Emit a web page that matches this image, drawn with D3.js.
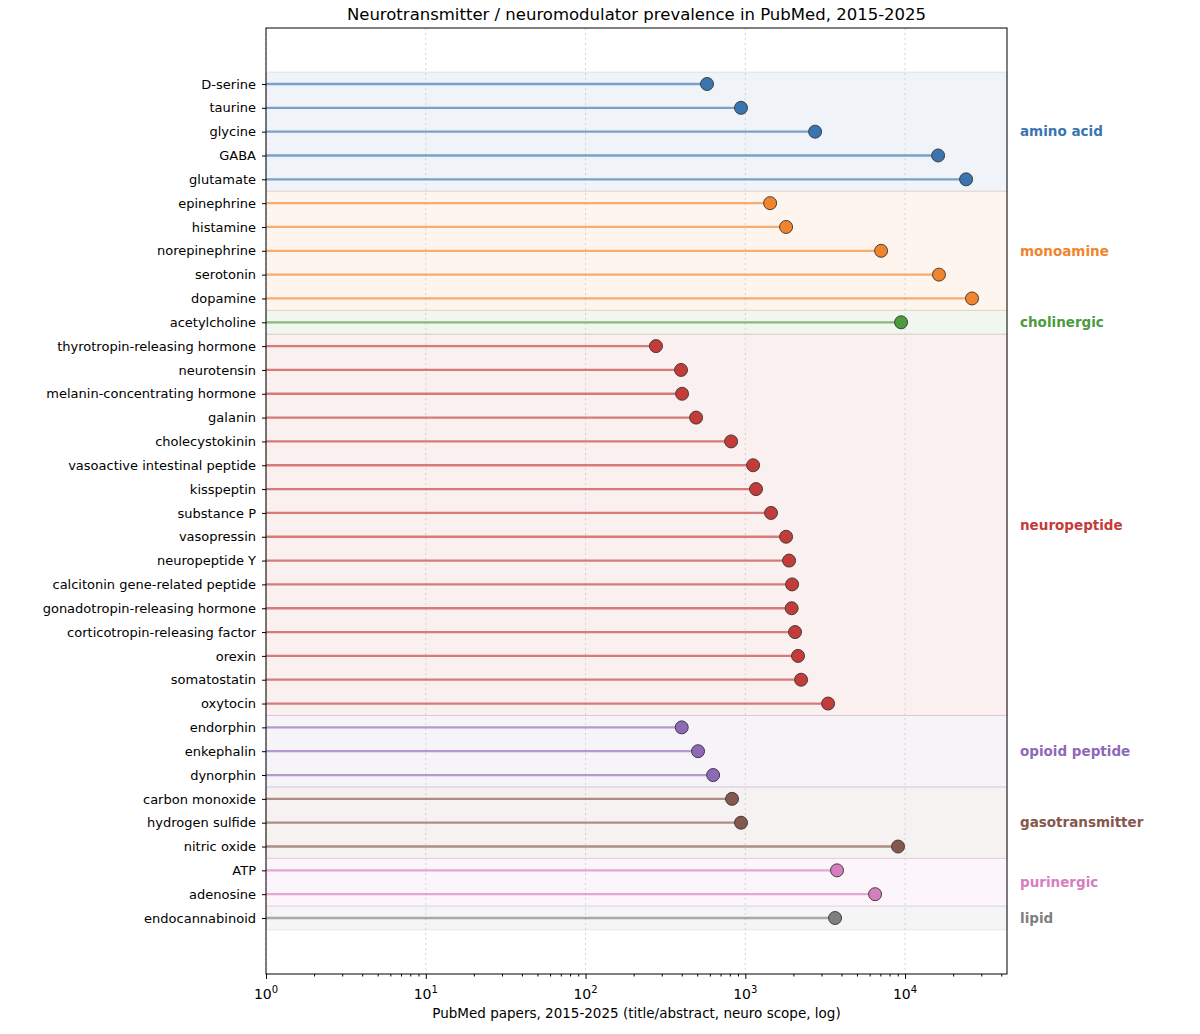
<!DOCTYPE html>
<html><head><meta charset="utf-8">
<script src="https://cdn.jsdelivr.net/npm/d3@7"></script>
<style>body{margin:0;background:#fff}svg, svg text{font-family:"DejaVu Sans",sans-serif}</style>
</head><body><div id="chart"></div>
<script>
const names = ["D-serine","taurine","glycine","GABA","glutamate",
  "epinephrine","histamine","norepinephrine","serotonin","dopamine",
  "acetylcholine",
  "thyrotropin-releasing hormone","neurotensin","melanin-concentrating hormone","galanin","cholecystokinin","vasoactive intestinal peptide","kisspeptin","substance P","vasopressin","neuropeptide Y","calcitonin gene-related peptide","gonadotropin-releasing hormone","corticotropin-releasing factor","orexin","somatostatin","oxytocin",
  "endorphin","enkephalin","dynorphin",
  "carbon monoxide","hydrogen sulfide","nitric oxide",
  "ATP","adenosine","endocannabinoid"];
const papers = [576,940,2735,16100,24100,
  1430,1800,7080,16300,26250,
  9440,
  276,396,402,492,815,1119,1167,1449,1800,1879,1963,1950,2048,2138,2234,3297,
  400,506,629,
  826,940,9036,
  3750,6490,3646];
const groups = ["amino acid","monoamine","cholinergic","neuropeptide","opioid peptide","gasotransmitter","purinergic","lipid"];
const groupSizes = [5,5,1,16,3,3,2,1];
const groupColors = ["#3a75b0","#f0852d","#4e9a3e","#c43c39","#8d69b8","#85584d","#d57fbe","#7f7f7f"];

const W = 1200, H = 1034, L = 266, R = 1007, T = 28, B = 974;
const svg = d3.select("#chart").append("svg").attr("width", W).attr("height", H);
const x = d3.scaleLog().domain([1, 43450]).range([L, R]);
const y = d3.scaleLinear().domain([-2.35, 37.35]).range([T, B]);

const rowGroup = [];
groupSizes.forEach((n, g) => { for (let i = 0; i < n; i++) rowGroup.push(g); });

// bands
let start = 0;
groupSizes.forEach((n, g) => {
  svg.append("rect").attr("x", L).attr("width", R - L)
    .attr("y", y(start - 0.5)).attr("height", y(start + n - 0.5) - y(start - 0.5))
    .attr("fill", groupColors[g]).attr("fill-opacity", 0.08)
    .attr("stroke", groupColors[g]).attr("stroke-opacity", 0.15);
  svg.append("text").attr("x", 1020).attr("y", y(start + (n - 1) / 2)).attr("dy", "0.35em")
    .attr("fill", groupColors[g]).attr("font-weight", "bold").attr("font-size", 13.5)
    .text(groups[g]);
  start += n;
});

// grid
[1, 10, 100, 1000, 10000].forEach(v => {
  svg.append("line").attr("x1", x(v)).attr("x2", x(v)).attr("y1", T).attr("y2", B)
    .attr("stroke", "#ccc").attr("stroke-dasharray", "2,3").attr("stroke-width", 0.8);
});

// lollipops
names.forEach((nm, i) => {
  const c = groupColors[rowGroup[i]];
  svg.append("line").attr("x1", x(1)).attr("x2", x(papers[i])).attr("y1", y(i)).attr("y2", y(i))
    .attr("stroke", c).attr("stroke-opacity", 0.65).attr("stroke-width", 2.3);
  svg.append("circle").attr("cx", x(papers[i])).attr("cy", y(i)).attr("r", 6.5)
    .attr("fill", c).attr("stroke", "#333").attr("stroke-width", 0.9);
});

// axes
const yAxis = svg.append("g").attr("transform", `translate(${L},0)`)
  .call(d3.axisLeft(y).tickValues(d3.range(names.length)).tickFormat(i => names[i]).tickSize(4));
yAxis.attr("font-family", null);
yAxis.select(".domain").remove();
yAxis.selectAll("text").attr("font-size", 13).attr("fill", "#000").attr("x", -10);

const major = [1, 10, 100, 1000, 10000];
const xAxis = svg.append("g").attr("transform", `translate(0,${B})`)
  .call(d3.axisBottom(x).tickValues(major).tickFormat(() => "").tickSize(5));
xAxis.select(".domain").remove();
const minor = [];
for (let e = 0; e < 5; e++) for (let k = 2; k <= 9; k++) { const v = k * 10 ** e; if (v < 43450) minor.push(v); }
svg.append("g").attr("transform", `translate(0,${B})`)
  .call(d3.axisBottom(x).tickValues(minor).tickFormat(() => "").tickSize(2.5))
  .select(".domain").remove();
major.forEach((v, e) => {
  const t = svg.append("text").attr("x", x(v)).attr("y", B + 25).attr("text-anchor", "middle").attr("font-size", 14);
  t.append("tspan").text("10");
  t.append("tspan").attr("dy", -6).attr("font-size", 10).text(e);
});

svg.append("rect").attr("x", L).attr("y", T).attr("width", R - L).attr("height", B - T)
  .attr("fill", "none").attr("stroke", "#000").attr("stroke-width", 1);

svg.append("text").attr("x", (L + R) / 2).attr("y", 20).attr("text-anchor", "middle")
  .attr("font-size", 16.5).text("Neurotransmitter / neuromodulator prevalence in PubMed, 2015-2025");
svg.append("text").attr("x", (L + R) / 2).attr("y", 1018).attr("text-anchor", "middle")
  .attr("font-size", 13.5).text("PubMed papers, 2015-2025 (title/abstract, neuro scope, log)");
</script></body></html>
